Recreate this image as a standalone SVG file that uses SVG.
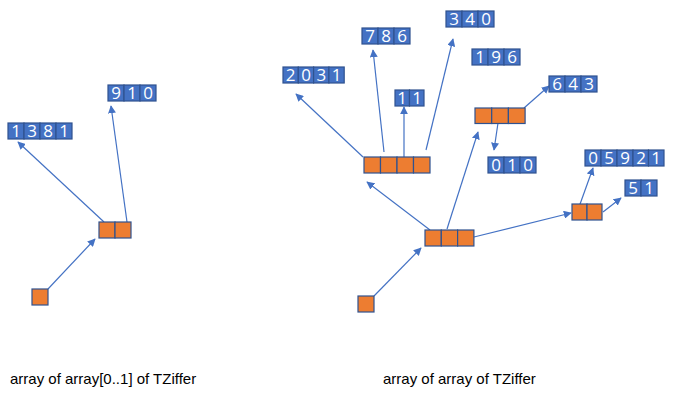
<svg xmlns="http://www.w3.org/2000/svg" width="676" height="403" viewBox="0 0 676 403">
<style>
.b{fill:#4472C4;stroke:#2F528F;stroke-width:1.2}
.o{fill:#ED7D31;stroke:#2F528F;stroke-width:1.2}
.d{fill:#fff;font-family:"Open Sans","Liberation Sans",sans-serif;font-size:17px;text-anchor:middle}
.c{stroke:#4472C4;stroke-width:1.2;fill:none;marker-end:url(#a)}
.t{font-family:"Liberation Sans",sans-serif;font-size:15px;fill:#000}
</style>
<defs><marker id="a" viewBox="0 0 10 10" refX="9" refY="5" markerWidth="8" markerHeight="8" markerUnits="userSpaceOnUse" orient="auto"><path d="M0,0L10,5L0,10z" fill="#4472C4"/></marker></defs>
<g id="connectors">
<line class="c" x1="48" y1="289" x2="95" y2="239"/>
<line class="c" x1="104" y1="222" x2="18" y2="142"/>
<line class="c" x1="127" y1="222" x2="111" y2="106"/>
<line class="c" x1="374" y1="296" x2="421" y2="248"/>
<line class="c" x1="430" y1="230" x2="367" y2="182"/>
<line class="c" x1="447" y1="229" x2="478" y2="132"/>
<line class="c" x1="474" y1="237" x2="571" y2="213"/>
<line class="c" x1="579" y1="207" x2="593" y2="168"/>
<line class="c" x1="603" y1="212" x2="621" y2="198"/>
<line class="c" x1="498" y1="123" x2="494" y2="150"/>
<line class="c" x1="524" y1="108" x2="549" y2="86"/>
<line class="c" x1="363" y1="157" x2="296" y2="94"/>
<line class="c" x1="384" y1="152" x2="373" y2="50"/>
<line class="c" x1="404" y1="157" x2="404" y2="107"/>
<line class="c" x1="426" y1="150" x2="453" y2="39"/>
</g>
<g id="l1381"><rect class="b" x="8" y="123" width="16" height="16"/><rect class="b" x="24" y="123" width="16" height="16"/><rect class="b" x="40" y="123" width="16" height="16"/><rect class="b" x="56" y="123" width="16" height="16"/><text class="d" x="16" y="137">1</text><text class="d" x="32" y="137">3</text><text class="d" x="48" y="137">8</text><text class="d" x="64" y="137">1</text></g>
<g id="l910"><rect class="b" x="108" y="85" width="16" height="16"/><rect class="b" x="124" y="85" width="16" height="16"/><rect class="b" x="140" y="85" width="16" height="16"/><text class="d" x="116" y="99">9</text><text class="d" x="132" y="99">1</text><text class="d" x="148" y="99">0</text></g>
<g id="lo2"><rect class="o" x="99" y="222" width="16" height="16"/><rect class="o" x="115" y="222" width="16" height="16"/></g>
<g id="lsq"><rect class="o" x="32" y="289" width="16" height="16"/></g>
<g id="r2031"><rect class="b" x="283" y="67" width="15.3" height="16"/><rect class="b" x="298.3" y="67" width="15.3" height="16"/><rect class="b" x="313.6" y="67" width="15.3" height="16"/><rect class="b" x="328.9" y="67" width="15.3" height="16"/><text class="d" x="290.6" y="81">2</text><text class="d" x="306" y="81">0</text><text class="d" x="321.3" y="81">3</text><text class="d" x="336.6" y="81">1</text></g>
<g id="r786"><rect class="b" x="362" y="28" width="16" height="16"/><rect class="b" x="378" y="28" width="16" height="16"/><rect class="b" x="394" y="28" width="16" height="16"/><text class="d" x="370" y="42">7</text><text class="d" x="386" y="42">8</text><text class="d" x="402" y="42">6</text></g>
<g id="r340"><rect class="b" x="446" y="11" width="16" height="16"/><rect class="b" x="462" y="11" width="16" height="16"/><rect class="b" x="478" y="11" width="16" height="16"/><text class="d" x="454" y="25">3</text><text class="d" x="470" y="25">4</text><text class="d" x="486" y="25">0</text></g>
<g id="r196"><rect class="b" x="472" y="49" width="16" height="16"/><rect class="b" x="488" y="49" width="16" height="16"/><rect class="b" x="504" y="49" width="16" height="16"/><text class="d" x="480" y="63">1</text><text class="d" x="496" y="63">9</text><text class="d" x="512" y="63">6</text></g>
<g id="r11"><rect class="b" x="395" y="90" width="14.5" height="16"/><rect class="b" x="409.5" y="90" width="14.5" height="16"/><text class="d" x="402" y="104">1</text><text class="d" x="417" y="104">1</text></g>
<g id="r643"><rect class="b" x="549" y="76" width="16" height="16"/><rect class="b" x="565" y="76" width="16" height="16"/><rect class="b" x="581" y="76" width="16" height="16"/><text class="d" x="557" y="90">6</text><text class="d" x="573" y="90">4</text><text class="d" x="589" y="90">3</text></g>
<g id="r010"><rect class="b" x="488" y="157" width="16" height="16"/><rect class="b" x="504" y="157" width="16" height="16"/><rect class="b" x="520" y="157" width="16" height="16"/><text class="d" x="496" y="171">0</text><text class="d" x="512" y="171">1</text><text class="d" x="528" y="171">0</text></g>
<g id="r05921"><rect class="b" x="585" y="150" width="16" height="16"/><rect class="b" x="601" y="150" width="16" height="16"/><rect class="b" x="617" y="150" width="16" height="16"/><rect class="b" x="633" y="150" width="15.5" height="16"/><rect class="b" x="648.5" y="150" width="15.5" height="16"/><text class="d" x="593" y="164">0</text><text class="d" x="609" y="164">5</text><text class="d" x="625" y="164">9</text><text class="d" x="641" y="164">2</text><text class="d" x="656" y="164">1</text></g>
<g id="r51"><rect class="b" x="625" y="180" width="16" height="16"/><rect class="b" x="641" y="180" width="16" height="16"/><text class="d" x="633" y="194">5</text><text class="d" x="649" y="194">1</text></g>
<g id="ro4"><rect class="o" x="364" y="157" width="16.5" height="16"/><rect class="o" x="380.5" y="157" width="16.5" height="16"/><rect class="o" x="397" y="157" width="16.5" height="16"/><rect class="o" x="413.5" y="157" width="16.5" height="16"/></g>
<g id="ro3top"><rect class="o" x="475" y="108" width="16.7" height="15.5"/><rect class="o" x="491.7" y="108" width="16.7" height="15.5"/><rect class="o" x="508.4" y="108" width="16.7" height="15.5"/></g>
<g id="ro3"><rect class="o" x="425" y="230" width="16.3" height="16"/><rect class="o" x="441.3" y="230" width="16.3" height="16"/><rect class="o" x="457.6" y="230" width="16.3" height="16"/></g>
<g id="ro2"><rect class="o" x="572" y="204" width="15" height="16"/><rect class="o" x="587" y="204" width="15" height="16"/></g>
<g id="rsq"><rect class="o" x="358" y="296" width="16" height="16"/></g>
<text class="t" x="10" y="384">array of array[0..1] of TZiffer</text>
<text class="t" x="383" y="384">array of array of TZiffer</text>
</svg>
